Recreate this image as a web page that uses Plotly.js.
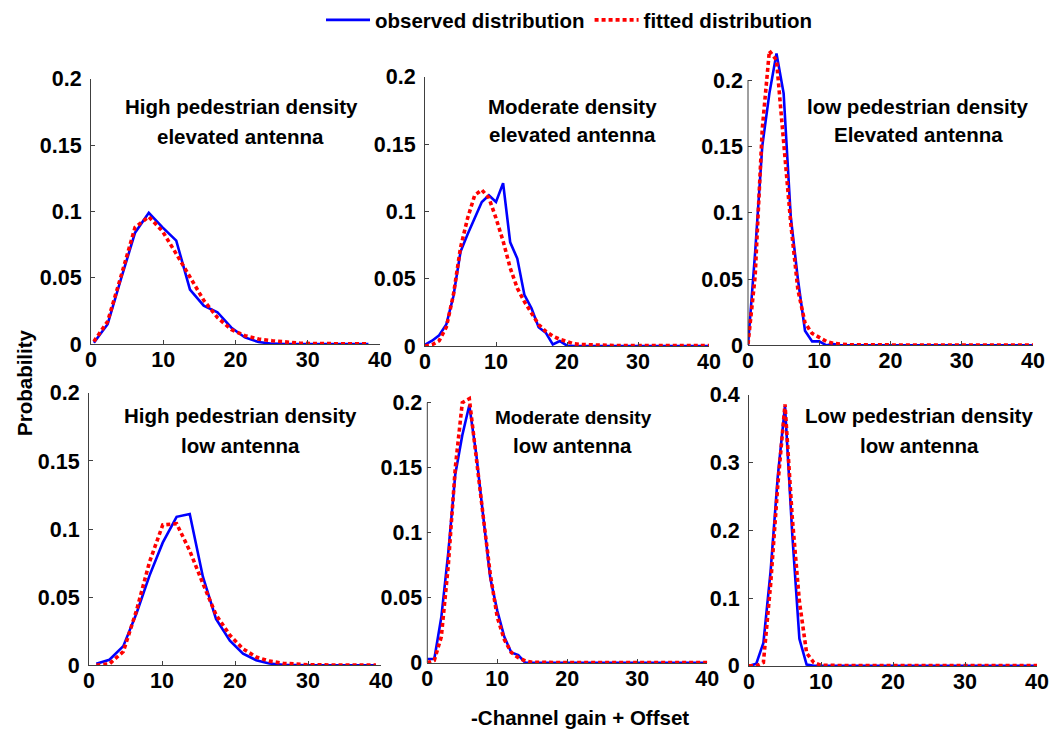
<!DOCTYPE html>
<html>
<head>
<meta charset="utf-8">
<script src="https://cdn.plot.ly/plotly-3.0.1.min.js"></script>
<style>html,body{margin:0;padding:0;background:#fff;}#chart{width:1059px;height:734px;}</style>
</head>
<body>
<div id="chart"></div>
<script>
// ---------- data ----------
var seriesNames = ["observed distribution", "fitted distribution"];
var panelTitles = [
  ["High pedestrian density", "elevated antenna"],
  ["Moderate density", "elevated antenna"],
  ["low pedestrian density", "Elevated antenna"],
  ["High pedestrian density", "low antenna"],
  ["Moderate density", "low antenna"],
  ["Low pedestrian density", "low antenna"]
];
var xTitle = "-Channel gain + Offset";
var yTitle = "Probability";
var xTicks = [0, 10, 20, 30, 40];

// panel 1: high density, elevated antenna
var x1 = [0.4, 2.3, 4.2, 6.1, 8.0, 9.9, 11.8, 13.7, 15.6, 17.5, 19.4, 21.3, 23.2, 25.1, 27.0, 28.9, 30.8, 32.7, 34.6, 36.5, 38.4];
var obs1 = [0.001, 0.015, 0.05, 0.084, 0.099, 0.088, 0.078, 0.041, 0.029, 0.024, 0.0125, 0.005, 0.0015, 0.0003, 0, 0, 0, 0, 0, 0, 0];
var fit1 = [0.002, 0.017, 0.052, 0.088, 0.096, 0.085, 0.068, 0.051, 0.033, 0.02, 0.011, 0.0063, 0.0038, 0.0025, 0.0013, 0.0007, 0.0004, 0.0002, 0.0001, 0.0001, 0.0001];

// panel 2: moderate density, elevated antenna
var x2 = [0,1,2,3,4,5,6,7,8,9,10,11,12,13,14,15,16,17,18,19,20,21,22,23,24,25,26,27,28,29,30,31,32,33,34,35,36,37,38,39,40];
var obs2 = [0.001, 0.004, 0.008, 0.016, 0.037, 0.07, 0.083, 0.095, 0.107, 0.112, 0.107, 0.121, 0.077, 0.065, 0.038, 0.028, 0.014, 0.01, 0.0012, 0.0037, 0.0003, 0, 0, 0, 0, 0, 0, 0, 0, 0, 0, 0, 0, 0, 0, 0, 0, 0, 0, 0, 0];
var fit2 = [0, 0.001, 0.004, 0.014, 0.038, 0.073, 0.095, 0.112, 0.116, 0.11, 0.095, 0.078, 0.058, 0.043, 0.033, 0.025, 0.016, 0.011, 0.0074, 0.005, 0.003, 0.0017, 0.0012, 0.0009, 0.0007, 0.0006, 0.0005, 0.0004, 0.0004, 0.0003, 0.0003, 0.0003, 0.0003, 0.0003, 0.0003, 0.0003, 0.0003, 0.0003, 0.0003, 0.0003, 0.0003];

// panel 3: low density, elevated antenna
var x3 = [0,1,2,3,4,5,6,7,8,9,10,11,12,13,14,15,16,17,18,19,20,21,22,23,24,25,26,27,28,29,30,31,32,33,34,35,36,37,38,39,40];
var obs3 = [0, 0.07, 0.15, 0.19, 0.22, 0.19, 0.097, 0.05, 0.011, 0.003, 0.003, 0, 0.001, 0, 0, 0, 0, 0, 0, 0, 0, 0, 0, 0, 0, 0, 0, 0, 0, 0, 0, 0, 0, 0, 0, 0, 0, 0, 0, 0, 0];
var fit3 = [0.001, 0.052, 0.163, 0.222, 0.215, 0.157, 0.092, 0.042, 0.017, 0.009, 0.006, 0.003, 0.0015, 0.0008, 0.0005, 0.0004, 0.0003, 0.0003, 0.0003, 0.0003, 0.0003, 0.0003, 0.0003, 0.0003, 0.0003, 0.0003, 0.0003, 0.0003, 0.0003, 0.0003, 0.0003, 0.0003, 0.0003, 0.0003, 0.0003, 0.0003, 0.0003, 0.0003, 0.0003, 0.0003, 0.0003];

// panel 4: high density, low antenna
var x4 = [1.0, 2.8, 4.7, 6.5, 8.3, 10.1, 12.0, 13.8, 15.6, 17.4, 19.3, 21.1, 22.9, 24.7, 26.6, 28.4, 30.2, 32.0, 33.9, 35.7, 37.5, 39.3];
var obs4 = [0.001, 0.004, 0.014, 0.038, 0.066, 0.09, 0.109, 0.111, 0.065, 0.034, 0.018, 0.0085, 0.0037, 0.0012, 0.0003, 0, 0, 0, 0, 0, 0, 0];
var fit4 = [0, 0.001, 0.01, 0.04, 0.076, 0.103, 0.104, 0.084, 0.06, 0.037, 0.022, 0.012, 0.006, 0.003, 0.0014, 0.0007, 0.0003, 0.0002, 0.0001, 0.0001, 0.0001, 0.0001];

// panel 5: moderate density, low antenna
var x5 = [0,1,2,3,4,5,6,7,8,9,10,11,12,13,14,15,16,17,18,19,20,21,22,23,24,25,26,27,28,29,30,31,32,33,34,35,36,37,38,39,40];
var obs5 = [0.003, 0.003, 0.035, 0.085, 0.145, 0.175, 0.198, 0.16, 0.112, 0.065, 0.04, 0.02, 0.008, 0.006, 0, 0, 0, 0, 0, 0, 0, 0, 0, 0, 0, 0, 0, 0, 0, 0, 0, 0, 0, 0, 0, 0, 0, 0, 0, 0, 0];
var fit5 = [0, 0.002, 0.02, 0.075, 0.15, 0.2, 0.203, 0.16, 0.112, 0.068, 0.035, 0.018, 0.008, 0.004, 0.0015, 0.0005, 0.0003, 0.0003, 0.0003, 0.0003, 0.0003, 0.0003, 0.0003, 0.0003, 0.0003, 0.0003, 0.0003, 0.0003, 0.0003, 0.0003, 0.0003, 0.0003, 0.0003, 0.0003, 0.0003, 0.0003, 0.0003, 0.0003, 0.0003, 0.0003, 0.0003];

// panel 6: low density, low antenna
var x6 = [0,1,2,3,4,5,6,7,8,9,10,11,12,13,14,15,16,17,18,19,20,21,22,23,24,25,26,27,28,29,30,31,32,33,34,35,36,37,38,39,40];
var obs6 = [0, 0.003, 0.034, 0.14, 0.28, 0.384, 0.196, 0.04, 0.002, 0, 0, 0, 0, 0, 0, 0, 0, 0, 0, 0, 0, 0, 0, 0, 0, 0, 0, 0, 0, 0, 0, 0, 0, 0, 0, 0, 0, 0, 0, 0, 0];
var fit6 = [0, 0, 0.005, 0.12, 0.267, 0.386, 0.22, 0.095, 0.019, 0.005, 0.001, 0.0005, 0.0005, 0.0005, 0.0005, 0.0005, 0.0005, 0.0005, 0.0005, 0.0005, 0.0005, 0.0005, 0.0005, 0.0005, 0.0005, 0.0005, 0.0005, 0.0005, 0.0005, 0.0005, 0.0005, 0.0005, 0.0005, 0.0005, 0.0005, 0.0005, 0.0005, 0.0005, 0.0005, 0.0005, 0.0005];

// ---------- layout helpers (pixel geometry) ----------
var W = 1059, H = 734;
function px(x) { return x / W; }
function py(y) { return 1 - y / H; }

// ext: panel whose curve overshoots the top tick -> draw y-axis line as a shape up to ymax
var panels = [
  {x: x1, obs: obs1, fit: fit1, xd: [91, 380], yd: [343, 77], yr: [0, 0.2], dt: 0.05, ymax: 0.2, ext: false, t: [[241,105],[240,135]], ts: 20.5},
  {x: x2, obs: obs2, fit: fit2, xd: [425, 709], yd: [345, 75], yr: [0, 0.2], dt: 0.05, ymax: 0.2, ext: false, t: [[572,105],[572,133]], ts: 20.5},
  {x: x3, obs: obs3, fit: fit3, xd: [748, 1033], yd: [344.3, 44], yr: [0, 0.2258], dt: 0.05, ymax: 0.2, ext: true, t: [[918,105],[918,133]], ts: 20.5},
  {x: x4, obs: obs4, fit: fit4, xd: [89, 381], yd: [665, 392], yr: [0, 0.2], dt: 0.05, ymax: 0.2, ext: false, t: [[240.5,415],[240.5,445]], ts: 20.5},
  {x: x5, obs: obs5, fit: fit5, xd: [427.3, 707.3], yd: [662.7, 392.7], yr: [0, 0.2069], dt: 0.05, ymax: 0.2, ext: true, t: [[573,417],[572,445]], ts: 19},
  {x: x6, obs: obs6, fit: fit6, xd: [749, 1037], yd: [665.7, 394], yr: [0, 0.4], dt: 0.1, ymax: 0.4, ext: false, t: [[919,415],[919,445]], ts: 20.5}
];

var FONT = "Liberation Sans, Arial, sans-serif";
var axisColor = "#404040";
var TICKF = {family: FONT, size: 21.5, color: "#000", weight: "bold"};
var traces = [];
var layout = {
  width: W, height: H,
  margin: {l: 0, r: 0, t: 0, b: 0},
  paper_bgcolor: "#fff", plot_bgcolor: "#fff",
  font: {family: FONT, size: 20, color: "#000", weight: "bold"},
  showlegend: true,
  legend: {
    orientation: "h", x: px(321), xanchor: "left", y: py(18), yanchor: "middle",
    font: {family: FONT, size: 20.5, color: "#000", weight: "bold"},
    bgcolor: "rgba(0,0,0,0)", borderwidth: 0, itemwidth: 44
  },
  annotations: [],
  shapes: []
};

panels.forEach(function (p, i) {
  var n = i + 1;
  var xa = n === 1 ? "x" : "x" + n;
  var ya = n === 1 ? "y" : "y" + n;
  traces.push({
    type: "scatter", mode: "lines", x: p.x, y: p.obs, xaxis: xa, yaxis: ya,
    name: seriesNames[0], legendgroup: "obs", showlegend: i === 0,
    line: {color: "#0000ff", width: 2.6}
  });
  traces.push({
    type: "scatter", mode: "lines", x: p.x, y: p.fit, xaxis: xa, yaxis: ya,
    name: seriesNames[1], legendgroup: "fit", showlegend: i === 0,
    line: {color: "#ff0000", width: 3.6, dash: "4px,3px"}
  });
  var tv = [];
  for (var v = 0; v <= p.ymax + 1e-9; v += p.dt) tv.push(Math.round(v * 100) / 100);
  layout["xaxis" + (n === 1 ? "" : n)] = {
    domain: [px(p.xd[0]), px(p.xd[1])], anchor: ya, range: [0, 40],
    tickvals: xTicks, ticks: "inside", ticklen: 4, tickcolor: axisColor, ticklabelstandoff: -4,
    showline: true, linecolor: axisColor, linewidth: 1, zeroline: false, showgrid: false,
    tickfont: TICKF, fixedrange: true
  };
  layout["yaxis" + (n === 1 ? "" : n)] = {
    domain: [py(p.yd[0]), py(p.yd[1])], anchor: xa, range: p.yr,
    tickvals: tv, ticks: "inside", ticklen: 4, tickcolor: axisColor, ticklabelstandoff: 4,
    showline: !p.ext, linecolor: axisColor, linewidth: 1, zeroline: false, showgrid: false,
    tickfont: TICKF, fixedrange: true
  };
  if (p.ext) {
    layout.shapes.push({type: "line", xref: xa + " domain", yref: ya, x0: 0, x1: 0, y0: 0, y1: p.ymax,
      line: {color: axisColor, width: 1}});
  }
  p.t.forEach(function (pos, k) {
    layout.annotations.push({
      xref: "paper", yref: "paper", x: px(pos[0]), y: py(pos[1]), xanchor: "center", yanchor: "middle",
      text: panelTitles[i][k], showarrow: false,
      font: {family: FONT, size: (k === 0 ? p.ts : 20.5), color: "#000", weight: "bold"}
    });
  });
});

layout.annotations.push({
  xref: "paper", yref: "paper", x: px(580), y: py(717), xanchor: "center", yanchor: "middle",
  text: xTitle, showarrow: false, font: {family: FONT, size: 20.5, color: "#000", weight: "bold"}
});
layout.annotations.push({
  xref: "paper", yref: "paper", x: px(25), y: py(382), xanchor: "center", yanchor: "middle",
  text: yTitle, textangle: -90, showarrow: false, font: {family: FONT, size: 20.5, color: "#000", weight: "bold"}
});

Plotly.newPlot("chart", traces, layout, {staticPlot: true, displayModeBar: false});
</script>
</body>
</html>
